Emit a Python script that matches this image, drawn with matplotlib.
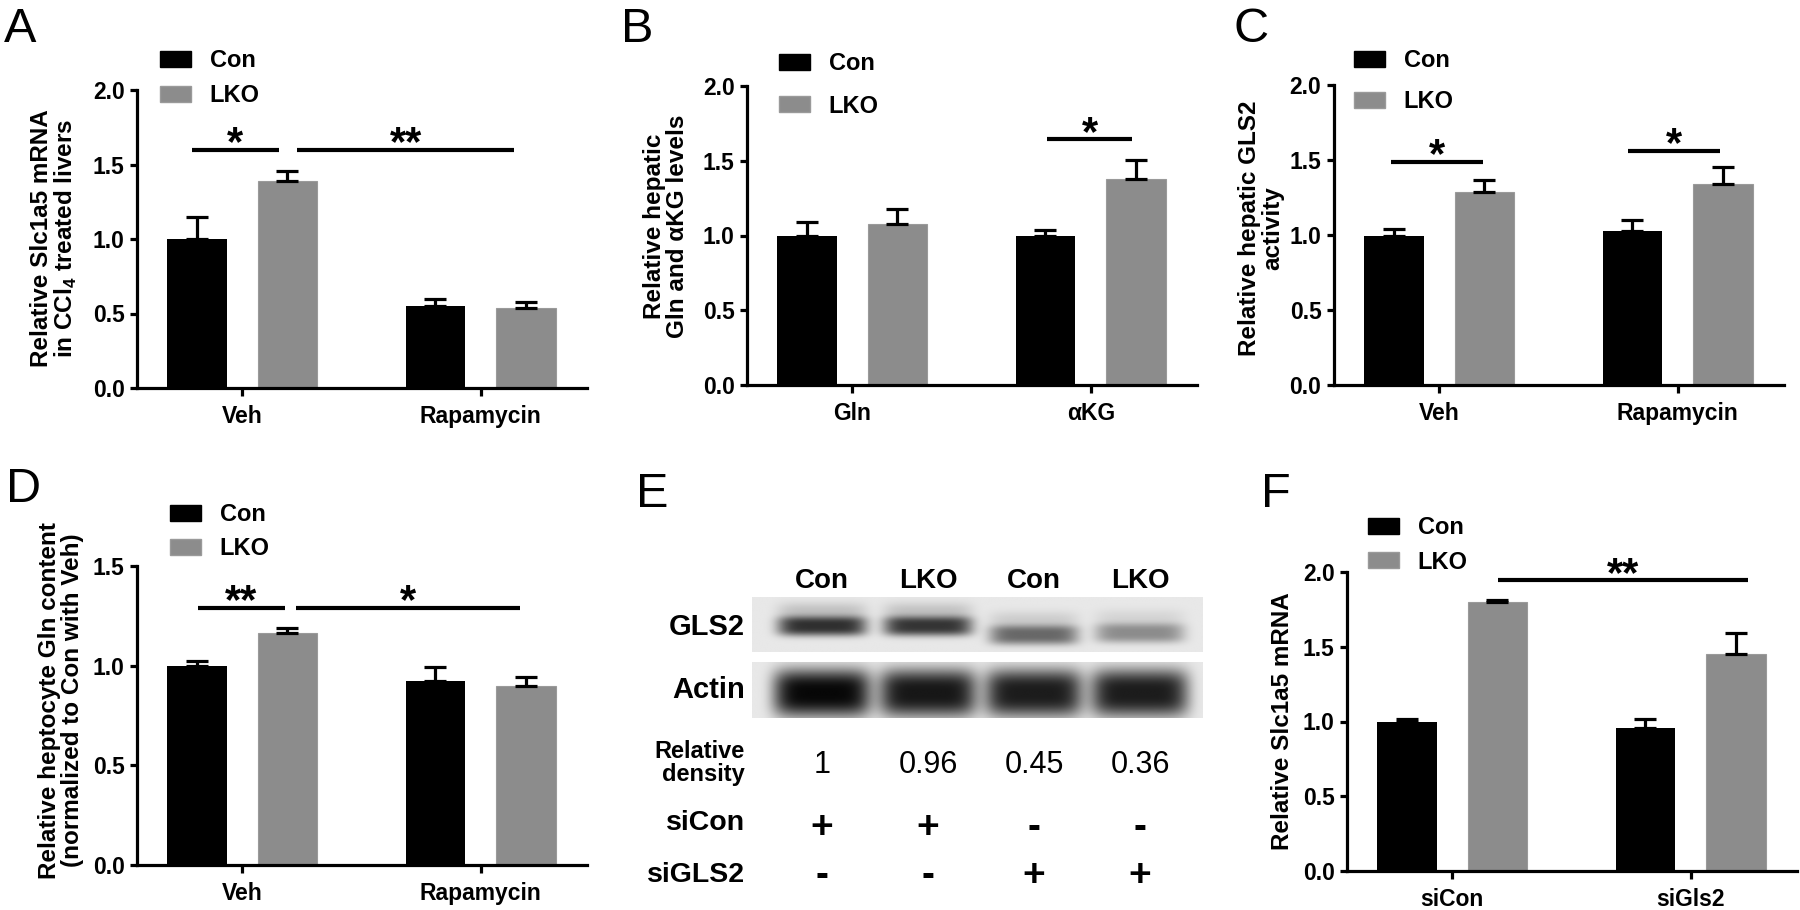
import matplotlib.pyplot as plt
import numpy as np
from matplotlib.patches import Patch
from matplotlib.ticker import FormatStrFormatter, MultipleLocator

plt.rcParams['font.family'] = ['Liberation Sans', 'DejaVu Sans']
plt.rcParams['font.weight'] = 'bold'
plt.rcParams['mathtext.fontset'] = 'custom'
plt.rcParams['mathtext.rm'] = 'Liberation Sans:bold'
plt.rcParams['mathtext.bf'] = 'Liberation Sans:bold'

BLACK = '#000000'
GREY = '#8c8c8c'
W, H = 1800, 910

# ---- data ----
series = ['Con', 'LKO']

a_groups = ['Veh', 'Rapamycin']
a_con = [1.00, 0.55]
a_con_err = [0.15, 0.045]
a_lko = [1.39, 0.54]
a_lko_err = [0.065, 0.035]

b_groups = ['Gln', 'αKG']
b_con = [1.00, 1.00]
b_con_err = [0.09, 0.04]
b_lko = [1.075, 1.38]
b_lko_err = [0.10, 0.125]

c_groups = ['Veh', 'Rapamycin']
c_con = [0.995, 1.03]
c_con_err = [0.045, 0.07]
c_lko = [1.29, 1.34]
c_lko_err = [0.08, 0.115]

d_groups = ['Veh', 'Rapamycin']
d_con = [1.00, 0.925]
d_con_err = [0.025, 0.07]
d_lko = [1.165, 0.90]
d_lko_err = [0.025, 0.042]

f_groups = ['siCon', 'siGls2']
f_con = [1.00, 0.955]
f_con_err = [0.02, 0.065]
f_lko = [1.80, 1.45]
f_lko_err = [0.015, 0.145]

# blot (panel E)
e_lanes = ['Con', 'LKO', 'Con', 'LKO']
e_density = ['1', '0.96', '0.45', '0.36']
e_sicon = ['+', '+', '-', '-']
e_sigls2 = ['-', '-', '+', '+']
gls2_band = [0.72, 0.70, 0.50, 0.36]
actin_band = [0.88, 0.82, 0.80, 0.80]


def px_rect(x0, x1, ytop, ybot):
    return [x0 / W, 1 - ybot / H, (x1 - x0) / W, (ybot - ytop) / H]


fig = plt.figure(figsize=(18, 9.1), dpi=100)


def bar_panel(rect, groups, con, con_err, lko, lko_err, ymax, ylabel, lab_xy,
              sigs, leg_xy, leg_space):
    ax = fig.add_axes(px_rect(*rect))
    x = np.arange(len(groups))
    off, bw = 0.19, 0.25
    ax.bar(x - off, con, bw, color=BLACK, zorder=2)
    ax.bar(x + off, lko, bw, color=GREY, edgecolor='#9a9a9a', linewidth=0.8, zorder=2)
    for xs, v, e in [(x - off, con, con_err), (x + off, lko, lko_err)]:
        ax.errorbar(xs, v, yerr=[np.zeros(len(v)), e], fmt='none', ecolor=BLACK,
                    elinewidth=2.3, capsize=8, capthick=2.3, zorder=3)
    for x1, x2, y, s in sigs:
        ax.plot([x1, x2], [y, y], color=BLACK, lw=3, solid_capstyle='butt')
        ax.annotate(s, xy=((x1 + x2) / 2, y), xytext=(0, -4), textcoords='offset points',
                    ha='center', va='baseline', fontsize=30, fontweight='bold')
    ax.set_xlim(-0.44, 1.445)
    ax.set_ylim(0, ymax)
    ax.yaxis.set_major_locator(MultipleLocator(0.5))
    ax.yaxis.set_major_formatter(FormatStrFormatter('%.1f'))
    ax.set_xticks(x)
    ax.set_xticklabels(groups)
    for s in ['top', 'right']:
        ax.spines[s].set_visible(False)
    for s in ['left', 'bottom']:
        ax.spines[s].set_linewidth(2.3)
    ax.tick_params(axis='y', length=5, width=2.3, labelsize=16.5, pad=4)
    ax.tick_params(axis='x', length=6, width=2.3, labelsize=16.5, pad=6)
    ax.text(lab_xy[0], lab_xy[1], ylabel, transform=ax.transAxes, rotation=90,
            ha='center', va='center', fontsize=17.5, fontweight='bold', linespacing=1.0)
    handles = [Patch(facecolor=BLACK, edgecolor=BLACK),
               Patch(facecolor=GREY, edgecolor='#9a9a9a')]
    ax.legend(handles, series, loc='upper left',
              bbox_to_anchor=(leg_xy[0] / W, 1 - leg_xy[1] / H),
              bbox_transform=fig.transFigure, frameon=False, borderpad=0,
              borderaxespad=0, handlelength=1.31, handleheight=0.68,
              handletextpad=0.8, labelspacing=leg_space,
              prop={'size': 17, 'weight': 'bold'})
    return ax


bar_panel((137, 587, 90, 388), a_groups, a_con, a_con_err, a_lko, a_lko_err, 2.0,
          'Relative Slc1a5 mRNA\nin CCl$_\\mathbf{4}$ treated livers', (-0.183, 0.503),
          [(-0.21, 0.155, 1.6, '*'), (0.23, 1.14, 1.6, '**')], (160, 49), 0.51)

bar_panel((747, 1197, 86, 385), b_groups, b_con, b_con_err, b_lko, b_lko_err, 2.0,
          'Relative hepatic\nGln and αKG levels', (-0.18, 0.53),
          [(0.816, 1.174, 1.643, '*')], (779, 52), 0.83)

bar_panel((1334, 1784, 85, 385), c_groups, c_con, c_con_err, c_lko, c_lko_err, 2.0,
          'Relative hepatic GLS2\nactivity', (-0.162, 0.523),
          [(-0.2, 0.183, 1.489, '*'), (0.793, 1.178, 1.562, '*')], (1354, 49), 0.76)

bar_panel((137, 587, 566, 865), d_groups, d_con, d_con_err, d_lko, d_lko_err, 1.5,
          'Relative heptocyte Gln content\n(normalized to Con with Veh)', (-0.169, 0.55),
          [(-0.184, 0.18, 1.291, '**'), (0.228, 1.165, 1.291, '*')], (170, 503), 0.47)

bar_panel((1347, 1797, 572, 871), f_groups, f_con, f_con_err, f_lko, f_lko_err, 2.0,
          'Relative Slc1a5 mRNA', (-0.144, 0.5),
          [(0.192, 1.24, 1.944, '**')], (1368, 516), 0.49)

# ---- panel E: western blot ----
axe = fig.add_axes(px_rect(600, 1205, 460, 910))
axe.set_xlim(-2.094, 3.613)
axe.set_ylim(910, 460)
axe.axis('off')
lanes = np.arange(len(e_lanes))
label_x = -0.726
sx0, sx1 = -0.66, 3.594


def blot(y0, y1, centers, heights, strength, widths, halo=0.0, bg=0.91):
    xs = np.linspace(sx0, sx1, 600)
    ys = np.linspace(y0, y1, 80)
    X, Y = np.meshgrid(xs, ys)
    img = np.full(X.shape, bg)
    for i, s in enumerate(strength):
        prof = np.exp(-((X - i) / widths) ** 6)
        img -= s * prof * np.exp(-np.abs((Y - centers[i]) / heights) ** 3)
        img -= halo * s * prof * np.exp(-((Y - centers[i] + 16) / 8) ** 2)
    axe.imshow(np.clip(img, 0, 1), cmap='gray', vmin=0, vmax=1, aspect='auto',
               extent=(sx0, sx1, y1, y0), interpolation='bilinear')


blot(597, 652, [626, 626, 635, 633], 10, gls2_band, 0.42, halo=0.2)
blot(662, 718, [693, 693, 693, 693], 24, actin_band, 0.46)

for i, name in enumerate(e_lanes):
    axe.text(lanes[i], 581, name, ha='center', va='center', fontsize=20, fontweight='bold')
    axe.text(lanes[i], 765, e_density[i], ha='center', va='center', fontsize=22,
             fontweight='normal')
    axe.text(lanes[i], 828, e_sicon[i], ha='center', va='center', fontsize=28, fontweight='bold')
    axe.text(lanes[i], 876, e_sigls2[i], ha='center', va='center', fontsize=28, fontweight='bold')

axe.text(label_x, 627, 'GLS2', ha='right', va='center', fontsize=21, fontweight='bold')
axe.text(label_x, 690, 'Actin', ha='right', va='center', fontsize=21, fontweight='bold')
axe.text(label_x, 763, 'Relative\ndensity', ha='right', va='center', fontsize=17,
         fontweight='bold', linespacing=0.95, multialignment='right')
axe.text(label_x, 823, 'siCon', ha='right', va='center', fontsize=20.5, fontweight='bold')
axe.text(label_x, 875, 'siGLS2', ha='right', va='center', fontsize=20.5, fontweight='bold')

# panel letters
for letter, x, y in [('A', 4, 42), ('B', 621, 42), ('C', 1233, 42),
                     ('D', 6, 502), ('E', 636, 507), ('F', 1261, 507)]:
    fig.text(x / W, 1 - y / H, letter, ha='left', va='baseline', fontsize=35,
             fontweight='normal')

fig.savefig('out.png', dpi=100)
